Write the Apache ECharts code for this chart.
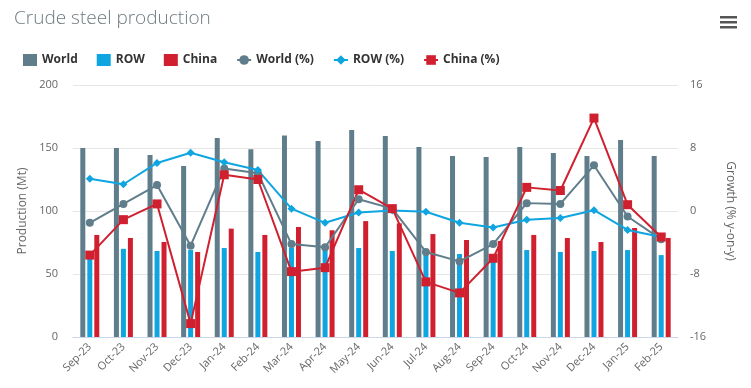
<!DOCTYPE html>
<html><head><meta charset="utf-8">
<script src="https://cdn.jsdelivr.net/npm/echarts@6/dist/echarts.min.js"></script>
<style>html,body{margin:0;padding:0;background:#fff}#c{width:751px;height:388px}</style>
</head><body><div id="c"></div>
<script>
const categories = ['Sep-23','Oct-23','Nov-23','Dec-23','Jan-24','Feb-24','Mar-24','Apr-24','May-24','Jun-24','Jul-24','Aug-24','Sep-24','Oct-24','Nov-24','Dec-24','Jan-25','Feb-25'];
const worldProd = [150, 150, 144.4, 135.7, 158, 149, 160, 155.5, 164.3, 159.5, 150.8, 143.7, 142.9, 150.8, 146, 143.7, 156.3, 143.7];
const rowProd   = [62.5, 70, 68.3, 69, 70.6, 67.5, 71, 70, 70.6, 68.3, 67, 65.9, 65, 69, 67.5, 68.3, 69, 65];
const chinaProd = [81, 78.6, 75.4, 67.5, 86, 81, 87.3, 84.7, 92, 90.2, 81.7, 77, 76.2, 81, 78.6, 75.4, 86.5, 78.6];
const worldPct  = [-1.5, 0.9, 3.3, -4.4, 5.4, 4.8, -4.2, -4.6, 1.5, 0.3, -5.2, -6.4, -4.2, 1.0, 0.9, 5.8, -0.7, -3.6];
const rowPct    = [4.1, 3.4, 6.1, 7.4, 6.2, 5.2, 0.3, -1.5, -0.2, 0.05, -0.1, -1.5, -2.1, -1.1, -0.9, 0.1, -2.4, -3.3];
const chinaPct  = [-5.6, -1.1, 0.9, -14.3, 4.6, 4.0, -7.7, -7.2, 2.7, 0.3, -9.0, -10.4, -6.0, 3.0, 2.6, 11.8, 0.8, -3.3];
const leftTicks = [0, 50, 100, 150, 200];
const rightTicks = [-16, -8, 0, 8, 16];

const cWorld = '#607d8b', cRow = '#0ea5e0', cChina = '#d0202f';
const chart = echarts.init(document.getElementById('c'));
const font = 'Open Sans, sans-serif';
chart.setOption({
  animation: false,
  textStyle: {fontFamily: font},
  title: {text: 'Crude steel production', left: 9, top: 4,
    textStyle: {fontSize: 19, fontWeight: 300, color: '#6e7b80', fontFamily: font}},
  legend: {left: 18, top: 49, itemGap: 19, itemWidth: 14, itemHeight: 12,
    textStyle: {fontSize: 12, fontWeight: 'bold', color: '#333'},
    data: [
      {name: 'World', icon: 'rect'}, {name: 'ROW', icon: 'rect'}, {name: 'China', icon: 'rect'},
      {name: 'World (%)'}, {name: 'ROW (%)'}, {name: 'China (%)'}
    ]},
  grid: {left: 73, right: 73, top: 85, bottom: 51},
  graphic: [
    {type: 'rect', left: 720, top: 16, shape: {width: 17, height: 2.5}, style: {fill: '#555'}},
    {type: 'rect', left: 720, top: 21, shape: {width: 17, height: 2.5}, style: {fill: '#555'}},
    {type: 'rect', left: 720, top: 26, shape: {width: 17, height: 2.5}, style: {fill: '#555'}}
  ],
  xAxis: {type: 'category', data: categories,
    axisLine: {lineStyle: {color: '#ccd6eb'}}, axisTick: {show: false},
    axisLabel: {rotate: 45, color: '#666', fontSize: 11, margin: 8, interval: 0}},
  yAxis: [
    {type: 'value', min: leftTicks[0], max: leftTicks[leftTicks.length-1], interval: 50,
      name: 'Production (Mt)', nameLocation: 'middle', nameGap: 43, nameRotate: 90,
      nameTextStyle: {color: '#666', fontSize: 12},
      axisLabel: {color: '#666', fontSize: 11, margin: 15},
      splitLine: {lineStyle: {color: '#e6e6e6'}}, axisLine: {show: false}, axisTick: {show: false}},
    {type: 'value', min: rightTicks[0], max: rightTicks[rightTicks.length-1], interval: 8,
      name: 'Growth (% y-on-y)', nameLocation: 'middle', nameGap: 46, nameRotate: -90,
      nameTextStyle: {color: '#666', fontSize: 12},
      axisLabel: {color: '#666', fontSize: 11, margin: 12},
      splitLine: {show: false}, axisLine: {show: false}, axisTick: {show: false}}
  ],
  series: [
    {name: 'World', type: 'bar', data: worldProd, barWidth: 5, barGap: '40%', itemStyle: {color: cWorld}},
    {name: 'ROW', type: 'bar', data: rowProd, barWidth: 5, barGap: '40%', itemStyle: {color: cRow}},
    {name: 'China', type: 'bar', data: chinaProd, barWidth: 5, barGap: '40%', itemStyle: {color: cChina}},
    {name: 'World (%)', type: 'line', yAxisIndex: 1, data: worldPct, symbol: 'circle', symbolSize: 8,
      lineStyle: {width: 2, color: cWorld}, itemStyle: {color: cWorld}},
    {name: 'ROW (%)', type: 'line', yAxisIndex: 1, data: rowPct, symbol: 'diamond', symbolSize: 8,
      lineStyle: {width: 2, color: cRow}, itemStyle: {color: cRow}},
    {name: 'China (%)', type: 'line', yAxisIndex: 1, data: chinaPct, symbol: 'rect', symbolSize: 9,
      lineStyle: {width: 2, color: cChina}, itemStyle: {color: cChina}}
  ]
});
</script></body></html>
